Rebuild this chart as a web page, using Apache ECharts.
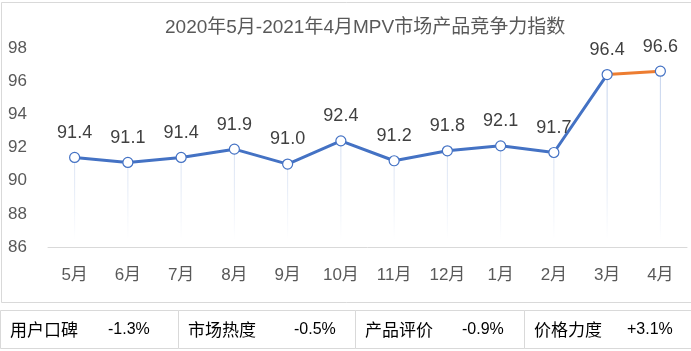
<!DOCTYPE html>
<html>
<head>
<meta charset="utf-8">
<script src="https://cdn.jsdelivr.net/npm/echarts@6/dist/echarts.min.js"></script>
<style>
  html, body { margin: 0; padding: 0; background: #fff; }
  #chart { width: 691px; height: 351px; }
</style>
</head>
<body>
<div id="chart"></div>
<script>
const months = ["5月", "6月", "7月", "8月", "9月", "10月", "11月", "12月", "1月", "2月", "3月", "4月"];
const index = [91.4, 91.1, 91.4, 91.9, 91.0, 92.4, 91.2, 91.8, 92.1, 91.7, 96.4, 96.6];
const yTicks = { min: 86, max: 98, step: 2 };
const factorNames = ["用户口碑", "市场热度", "产品评价", "价格力度"];
const factorChanges = ["-1.3%", "-0.5%", "-0.9%", "+3.1%"];

const font = "'Liberation Sans', 'Noto Sans CJK SC', sans-serif";
const last = index.length - 1;

// blue up to March, orange for the last step
const blueLine = index.map((v, i) => (i < last ? v : null));
const orangeLine = index.map((v, i) => (i >= last - 1 ? v : null));

// footer table built from the factor arrays
const colX = [0, 178, 355, 524, 691];
const valueX = [108, 294, 462, 627];
const table = [];
factorNames.forEach((name, i) => {
  table.push({
    type: "rect",
    shape: { x: colX[i] + 0.5, y: 310.5, width: colX[i + 1] - colX[i], height: 38 },
    style: { fill: "#fff", stroke: "#d9d9d9", lineWidth: 1 }
  });
  table.push({
    type: "text",
    x: colX[i] + 10, y: 330,
    style: { text: name, fill: "#000", font: "17px 'Noto Sans CJK SC', sans-serif", verticalAlign: "middle" }
  });
  table.push({
    type: "text",
    x: valueX[i], y: 330,
    style: { text: factorChanges[i], fill: "#000", font: "16px 'Liberation Sans', sans-serif", verticalAlign: "middle" }
  });
});

const chart = echarts.init(document.getElementById("chart"));
chart.setOption({
  backgroundColor: "#fff",
  animation: false,
  title: {
    text: "2020年5月-2021年4月MPV市场产品竞争力指数",
    left: 165,
    top: 18,
    padding: 0,
    textStyle: { color: "#595959", fontSize: 19, fontWeight: "normal", fontFamily: font }
  },
  grid: { left: 48, right: 4, top: 48, bottom: 104 },
  xAxis: {
    type: "category",
    data: months,
    axisTick: { show: false },
    axisLine: { lineStyle: { color: "#d9d9d9", width: 1 } },
    axisLabel: { color: "#595959", fontSize: 17, margin: 20, fontFamily: font }
  },
  yAxis: {
    type: "value",
    min: yTicks.min,
    max: yTicks.max,
    interval: yTicks.step,
    splitLine: { show: false },
    axisLine: { show: false },
    axisTick: { show: false },
    axisLabel: { color: "#595959", fontSize: 17, margin: 21, fontFamily: font }
  },
  graphic: [
    {
      type: "rect",
      z: -10,
      shape: { x: 1.5, y: 2.5, width: 692, height: 300 },
      style: { fill: "none", stroke: "#d9d9d9", lineWidth: 1 }
    },
    ...table
  ],
  series: [
    {
      type: "bar",
      data: index,
      barWidth: 1,
      silent: true,
      z: 1,
      itemStyle: {
        color: new echarts.graphic.LinearGradient(0, 60, 0, 240, [
          { offset: 0, color: "rgba(68,114,196,0.35)" },
          { offset: 0.7, color: "rgba(68,114,196,0.15)" },
          { offset: 1, color: "rgba(68,114,196,0)" }
        ], true)
      }
    },
    {
      type: "line",
      data: blueLine,
      symbol: "none",
      z: 3,
      lineStyle: { color: "#4472C4", width: 3 }
    },
    {
      type: "line",
      data: orangeLine,
      symbol: "none",
      z: 3,
      lineStyle: { color: "#ED7D31", width: 3 }
    },
    {
      type: "line",
      data: index,
      symbol: "circle",
      symbolSize: 10,
      z: 5,
      lineStyle: { width: 0 },
      itemStyle: { color: "#fff", borderColor: "#4472C4", borderWidth: 1.2 },
      label: {
        show: true,
        position: "top",
        distance: 10,
        color: "#404040",
        fontSize: 18,
        fontFamily: font,
        formatter: (p) => p.value.toFixed(1)
      }
    }
  ]
});
</script>
</body>
</html>
